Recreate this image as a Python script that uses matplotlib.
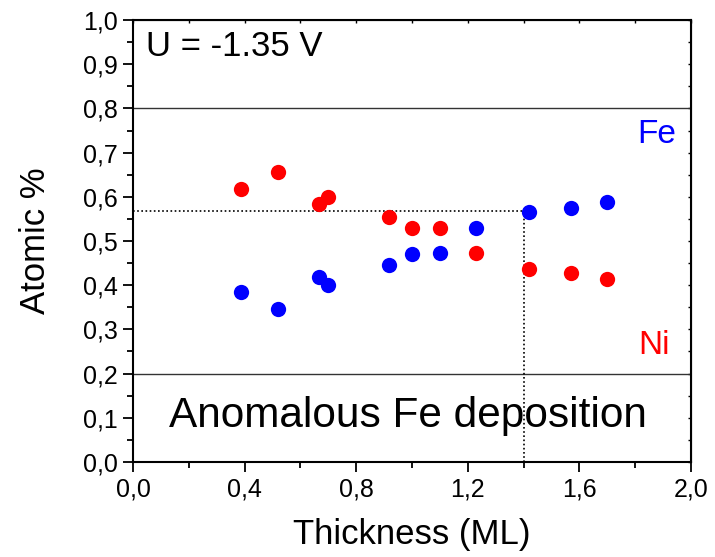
import numpy as np
import matplotlib
matplotlib.use('Agg')
import matplotlib.pyplot as plt
from matplotlib.ticker import MultipleLocator, FuncFormatter

plt.rcParams['font.family'] = ['Liberation Sans', 'DejaVu Sans']

# film thickness (ML) and atomic fractions
thickness = [0.387, 0.52, 0.667, 0.70, 0.918, 1.0, 1.10, 1.229, 1.419, 1.57, 1.70]
fe_frac = [0.385, 0.346, 0.419, 0.400, 0.446, 0.470, 0.473, 0.529, 0.565, 0.575, 0.588]
ni_frac = [0.618, 0.656, 0.584, 0.600, 0.554, 0.529, 0.529, 0.473, 0.437, 0.428, 0.414]

# guide lines
band_levels = [0.2, 0.8]
cross_x = 1.4
cross_y = 0.568

fig = plt.figure(figsize=(7.15, 5.57), dpi=100)
ax = fig.add_axes([0.186, 0.1706, 0.7804, 0.7934])

# horizontal band limits
for lvl in band_levels:
    ax.axhline(lvl, color='#333333', lw=1.0, zorder=1)

# dotted guides to the crossing point
ax.plot([0, cross_x], [cross_y, cross_y], color='k', ls=(0, (1, 1.5)), lw=1.2, zorder=2)
ax.plot([cross_x, cross_x], [0, cross_y], color='k', ls=(0, (1, 1.5)), lw=1.2, zorder=2)

# data points
ax.plot(thickness, ni_frac, 'o', color='#ff0000', ms=11, mec='none', zorder=3)
ax.plot(thickness, fe_frac, 'o', color='#0000ff', ms=11, mec='none', zorder=3)

# annotations
ax.text(0.045, 0.94, 'U = -1.35 V', fontsize=25, ha='left', va='center')
ax.text(0.985, 0.105, 'Anomalous Fe deposition', fontsize=30.5, ha='center', va='center')
ax.text(1.878, 0.742, 'Fe', color='#0000ff', fontsize=24, ha='center', va='center')
ax.text(1.867, 0.263, 'Ni', color='#ff0000', fontsize=24, ha='center', va='center')

ax.set_xlim(0, 2.0)
ax.set_ylim(0, 1.0)

ax.xaxis.set_major_locator(MultipleLocator(0.4))
ax.xaxis.set_minor_locator(MultipleLocator(0.2))
ax.yaxis.set_major_locator(MultipleLocator(0.1))
ax.yaxis.set_minor_locator(MultipleLocator(0.05))

comma = FuncFormatter(lambda v, p: ('%.1f' % v).replace('.', ','))
ax.xaxis.set_major_formatter(comma)
ax.yaxis.set_major_formatter(comma)

ax.tick_params(axis='both', which='major', direction='out', length=7, width=1.3, labelsize=18, pad=4)
ax.tick_params(axis='both', which='minor', direction='out', length=4, width=1.3)

for s in ax.spines.values():
    s.set_linewidth(1.5)

# short inward ticks on top and right
secx = ax.secondary_xaxis('top')
secx.xaxis.set_major_locator(MultipleLocator(0.4))
secx.xaxis.set_minor_locator(MultipleLocator(0.2))
secx.tick_params(which='both', direction='in', length=2, width=1.0, labeltop=False)
secy = ax.secondary_yaxis('right')
secy.yaxis.set_major_locator(MultipleLocator(0.1))
secy.yaxis.set_minor_locator(MultipleLocator(0.05))
secy.tick_params(which='both', direction='in', length=2, width=1.0, labelright=False)

ax.set_xlabel('Thickness (ML)', fontsize=25, labelpad=12)
ax.set_ylabel('Atomic %', fontsize=25, labelpad=22)

fig.savefig('out.png', dpi=100)
